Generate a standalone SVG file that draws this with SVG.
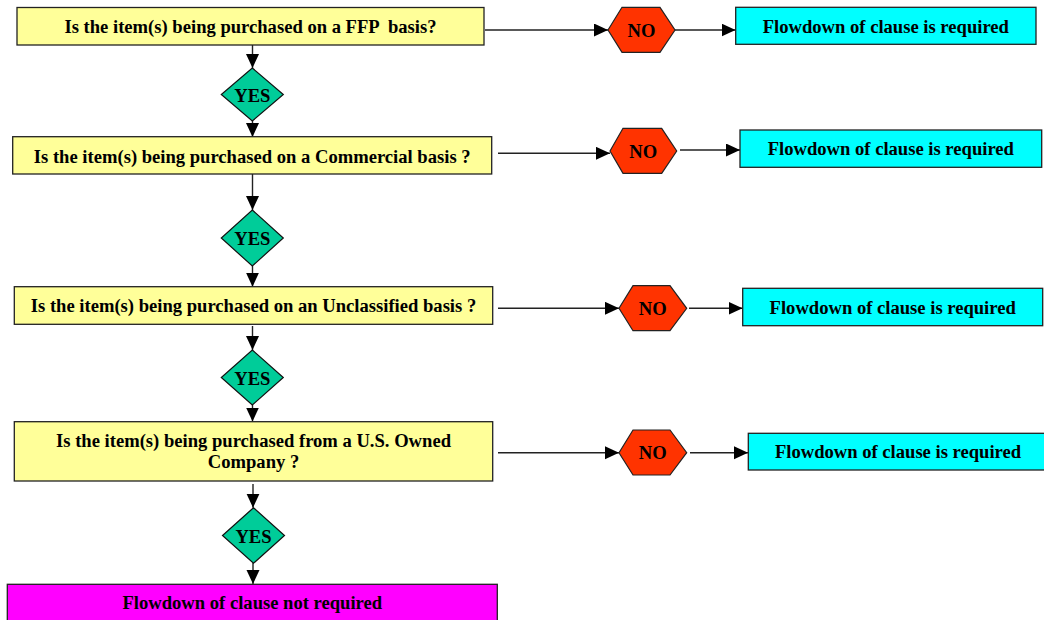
<svg xmlns="http://www.w3.org/2000/svg" width="1044" height="620" viewBox="0 0 1044 620">
<style>
  text { font-family: "Liberation Serif", "Times New Roman", serif; font-weight: bold; font-size: 18.6px; fill: #000; text-anchor: middle; white-space: pre; }
  .q { fill: #FFFF99; stroke: #222; stroke-width: 1.3; }
  .req { fill: #00FFFF; stroke: #222; stroke-width: 1.3; }
  .nreq { fill: #FF00FF; stroke: #222; stroke-width: 1.3; }
  .yes { fill: #00CC99; stroke: #111; stroke-width: 1.2; }
  .no { fill: #FF3300; stroke: #222; stroke-width: 1.2; }
  .c { fill: none; stroke: #222; stroke-width: 1.4; }
</style>
<defs>
  <marker id="ah" markerUnits="userSpaceOnUse" markerWidth="15" markerHeight="14" refX="14" refY="6.5" orient="auto">
    <path d="M0,0 L14,6.5 L0,13 z" fill="#000"/>
  </marker>
</defs>
<rect width="1044" height="620" fill="#fff"/>

<g id="connectors">
  <line class="c" x1="252.5" y1="45" x2="252.5" y2="68" marker-end="url(#ah)"/>
  <line class="c" x1="252.5" y1="121" x2="252.5" y2="137" marker-end="url(#ah)"/>
  <line class="c" x1="252.5" y1="174" x2="252.5" y2="210" marker-end="url(#ah)"/>
  <line class="c" x1="252.5" y1="266" x2="252.5" y2="286.7" marker-end="url(#ah)"/>
  <line class="c" x1="252.5" y1="326" x2="252.5" y2="350" marker-end="url(#ah)"/>
  <line class="c" x1="252.5" y1="405" x2="252.5" y2="421.5" marker-end="url(#ah)"/>
  <line class="c" x1="253" y1="484" x2="253" y2="507.7" marker-end="url(#ah)"/>
  <line class="c" x1="253" y1="563" x2="253" y2="584" marker-end="url(#ah)"/>

  <line class="c" x1="485" y1="30" x2="608" y2="30" marker-end="url(#ah)"/>
  <line class="c" x1="675" y1="30" x2="735.5" y2="30" marker-end="url(#ah)"/>
  <line class="c" x1="498" y1="153.3" x2="610" y2="153.3" marker-end="url(#ah)"/>
  <line class="c" x1="680" y1="150" x2="740" y2="150" marker-end="url(#ah)"/>
  <line class="c" x1="498" y1="308.3" x2="619" y2="308.3" marker-end="url(#ah)"/>
  <line class="c" x1="689" y1="308.3" x2="742.5" y2="308.3" marker-end="url(#ah)"/>
  <line class="c" x1="498" y1="452.7" x2="619" y2="452.7" marker-end="url(#ah)"/>
  <line class="c" x1="690" y1="452.7" x2="748" y2="452.7" marker-end="url(#ah)"/>
</g>

<g id="q1">
  <rect class="q" x="17" y="7.5" width="467" height="37.5"/>
  <text x="250.5" y="33">Is the item(s) being purchased on a FFP  basis?</text>
</g>
<g id="yes1">
  <polygon class="yes" points="252.3,68 283.3,94.5 252.3,121 221.3,94.5"/>
  <text x="252.3" y="101.5">YES</text>
</g>
<g id="q2">
  <rect class="q" x="12.7" y="136.7" width="479" height="37.3"/>
  <text x="252.2" y="162.5">Is the item(s) being purchased on a Commercial basis ?</text>
</g>
<g id="yes2">
  <polygon class="yes" points="252.3,210 283.3,238 252.3,266 221.3,238"/>
  <text x="252.3" y="245">YES</text>
</g>
<g id="q3">
  <rect class="q" x="14.3" y="286.7" width="478.4" height="37.6"/>
  <text x="253.5" y="311.5">Is the item(s) being purchased on an Unclassified basis ?</text>
</g>
<g id="yes3">
  <polygon class="yes" points="252.3,350 283.3,377.5 252.3,405 221.3,377.5"/>
  <text x="252.3" y="384.5">YES</text>
</g>
<g id="q4">
  <rect class="q" x="14.3" y="421.7" width="478.4" height="59.3"/>
  <text x="253.5" y="446.5">Is the item(s) being purchased from a U.S. Owned</text>
  <text x="253.5" y="467.5">Company ?</text>
</g>
<g id="yes4">
  <polygon class="yes" points="253.5,507.7 284.5,535.5 253.5,563.3 222.5,535.5"/>
  <text x="253.5" y="542.5">YES</text>
</g>
<g id="end">
  <rect class="nreq" x="7.3" y="584.3" width="490" height="40"/>
  <text x="252.3" y="608.5">Flowdown of clause not required</text>
</g>

<g id="no1">
  <polygon class="no" points="608,30 622,7.3 660,7.3 675,30 660,52.3 622,52.3"/>
  <text x="641.5" y="36.5">NO</text>
</g>
<g id="no2">
  <polygon class="no" points="610,151 623,128.3 661.7,128.3 676.7,151 661.7,173.3 623,173.3"/>
  <text x="643.3" y="157.5">NO</text>
</g>
<g id="no3">
  <polygon class="no" points="619,308.3 633,285.7 670,285.7 686.7,308.3 670,330.7 633,330.7"/>
  <text x="652.8" y="314.8">NO</text>
</g>
<g id="no4">
  <polygon class="no" points="619,452.7 633,430 670,430 686.7,452.7 670,475 633,475"/>
  <text x="652.8" y="459.2">NO</text>
</g>

<g id="r1">
  <rect class="req" x="735.7" y="7.3" width="300.3" height="37"/>
  <text x="885.8" y="32.5">Flowdown of clause is required</text>
</g>
<g id="r2">
  <rect class="req" x="740" y="130" width="301.7" height="37.3"/>
  <text x="890.8" y="155.3">Flowdown of clause is required</text>
</g>
<g id="r3">
  <rect class="req" x="742.7" y="288.3" width="300" height="37.4"/>
  <text x="892.7" y="313.8">Flowdown of clause is required</text>
</g>
<g id="r4">
  <rect class="req" x="748.3" y="433.3" width="300" height="36.7"/>
  <text x="898" y="458.3">Flowdown of clause is required</text>
</g>
</svg>
